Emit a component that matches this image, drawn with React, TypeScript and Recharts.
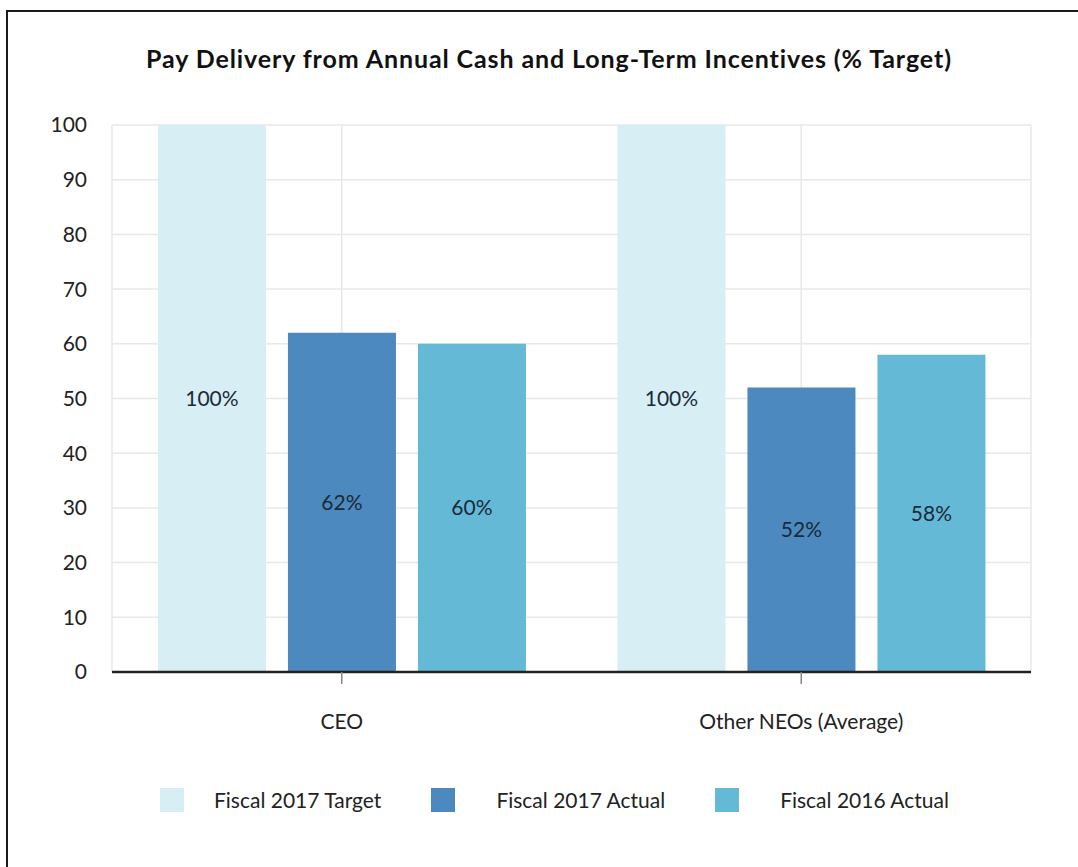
import { BarChart, Bar, XAxis, YAxis, CartesianGrid, Legend, LabelList } from 'recharts';

const groups = ['CEO', 'Other NEOs (Average)'];
const target2017 = [100, 100];
const actual2017 = [62, 52];
const actual2016 = [60, 58];
const yTicks = [0, 10, 20, 30, 40, 50, 60, 70, 80, 90, 100];

const series = [
  { key: 'target2017', name: 'Fiscal 2017 Target', color: '#d7eef5' },
  { key: 'actual2017', name: 'Fiscal 2017 Actual', color: '#4b89be' },
  { key: 'actual2016', name: 'Fiscal 2016 Actual', color: '#64b9d6' },
];

const data = groups.map((g, i) => ({
  group: g,
  target2017: target2017[i],
  actual2017: actual2017[i],
  actual2016: actual2016[i],
}));

const font = 'Lato, "Open Sans", sans-serif';

function LegendBox() {
  return (
    <div style={{ display: 'flex', alignItems: 'center', paddingLeft: 160, fontFamily: font, fontSize: 21, color: '#222' }}>
      {series.map((s, i) => (
        <div key={s.key} style={{ display: 'flex', alignItems: 'center', marginRight: 50 }}>
          <span style={{ width: 24, height: 24, background: s.color, display: 'inline-block', marginRight: i === 0 ? 30 : 41 }} />
          <span>{s.name}</span>
        </div>
      ))}
    </div>
  );
}

export default function App() {
  return (
    <div style={{ position: 'fixed', left: 0, top: 0, width: 1078, height: 867, overflow: 'hidden', background: '#fff' }}>
      <div style={{ position: 'absolute', left: 6, top: 10, right: 0, bottom: 0, borderLeft: '2px solid #1a1a1a', borderTop: '2px solid #1a1a1a' }} />
      <div style={{ position: 'absolute', left: 0, top: 43, width: 1098, textAlign: 'center', fontFamily: font, fontWeight: 700, fontSize: 25, letterSpacing: 0.9, color: '#111' }}>
        Pay Delivery from Annual Cash and Long-Term Incentives (% Target)
      </div>
      <div style={{ position: 'absolute', left: 0, top: 0 }}>
        <BarChart width={1078} height={867} data={data} margin={{ top: 125, right: 47, bottom: 165, left: 52 }} barCategoryGap="10%" barGap={22}>
          <CartesianGrid stroke="#e8e8e8" strokeWidth={1.5} />
          <XAxis
            dataKey="group"
            height={30}
            tickSize={12}
            tickMargin={30}
            tickLine={{ stroke: '#888', strokeWidth: 1.5 }}
            axisLine={{ stroke: '#222', strokeWidth: 2.5 }}
            tick={{ fill: '#222', fontFamily: font, fontSize: 21 }}
          />
          <YAxis
            width={60}
            domain={[0, 100]}
            ticks={yTicks}
            interval={0}
            axisLine={false}
            tickLine={false}
            tickSize={0}
            tickMargin={25}
            tick={{ fill: '#222', fontFamily: font, fontSize: 21 }}
          />
          <Legend verticalAlign="middle" align="center" wrapperStyle={{ top: 787, left: 0, width: 1078 }} content={() => <LegendBox />} />
          {series.map((s) => (
            <Bar key={s.key} dataKey={s.key} name={s.name} fill={s.color} isAnimationActive={false}>
              <LabelList dataKey={s.key} position="center" formatter={(v: number) => `${v}%`} fill="#1c2a38" fontFamily={font} fontSize={21} />
            </Bar>
          ))}
        </BarChart>
      </div>
    </div>
  );
}
